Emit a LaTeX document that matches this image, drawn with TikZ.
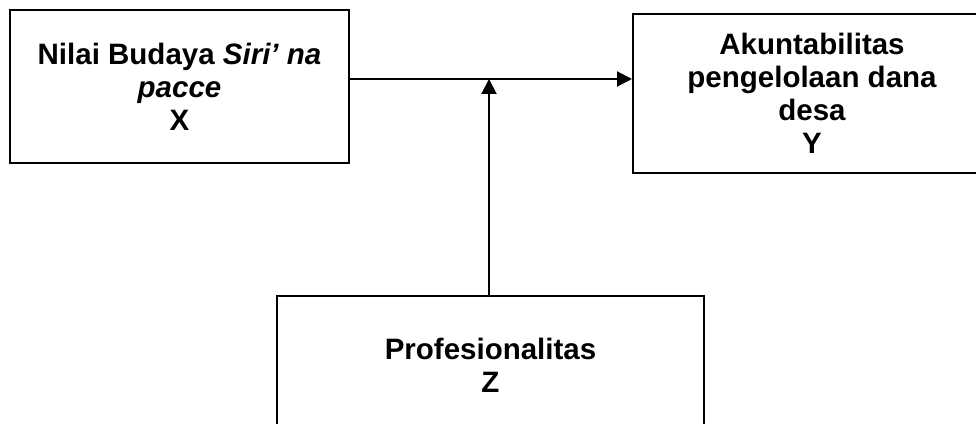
\documentclass[tikz,border=0pt]{standalone}
\usepackage{fontspec}
\setmainfont{Liberation Sans}
\usetikzlibrary{arrows.meta}

\begin{document}
\begin{tikzpicture}[x=1pt,y=1pt,
  box/.style={draw,line width=2pt,align=center,inner sep=0pt,
    font=\bfseries\fontsize{29.5}{33}\selectfont},
  arr/.style={line width=2pt,-{Triangle[length=15pt,width=15pt]}}]
\useasboundingbox (0,0) rectangle (976,423);
\clip (0,0) rectangle (976,423);
\node[box,minimum width=339pt,minimum height=153pt] (nilai) at (179.5,336.5)
  {Nilai Budaya \textit{Siri’ na}\\\textit{pacce}\\X};
\node[box,minimum width=358pt,minimum height=159pt] (akun) at (812,329.5)
  {Akuntabilitas\\pengelolaan dana\\desa\\Y};
\node[box,minimum width=427pt,minimum height=138pt] (prof) at (490.5,58)
  {Profesionalitas\\Z};
\coordinate (meet) at (489,344);
\draw[arr] (nilai.east |- meet) -- (akun.west |- meet);
\draw[arr] (meet |- prof.north) -- (meet);
\end{tikzpicture}
\end{document}
